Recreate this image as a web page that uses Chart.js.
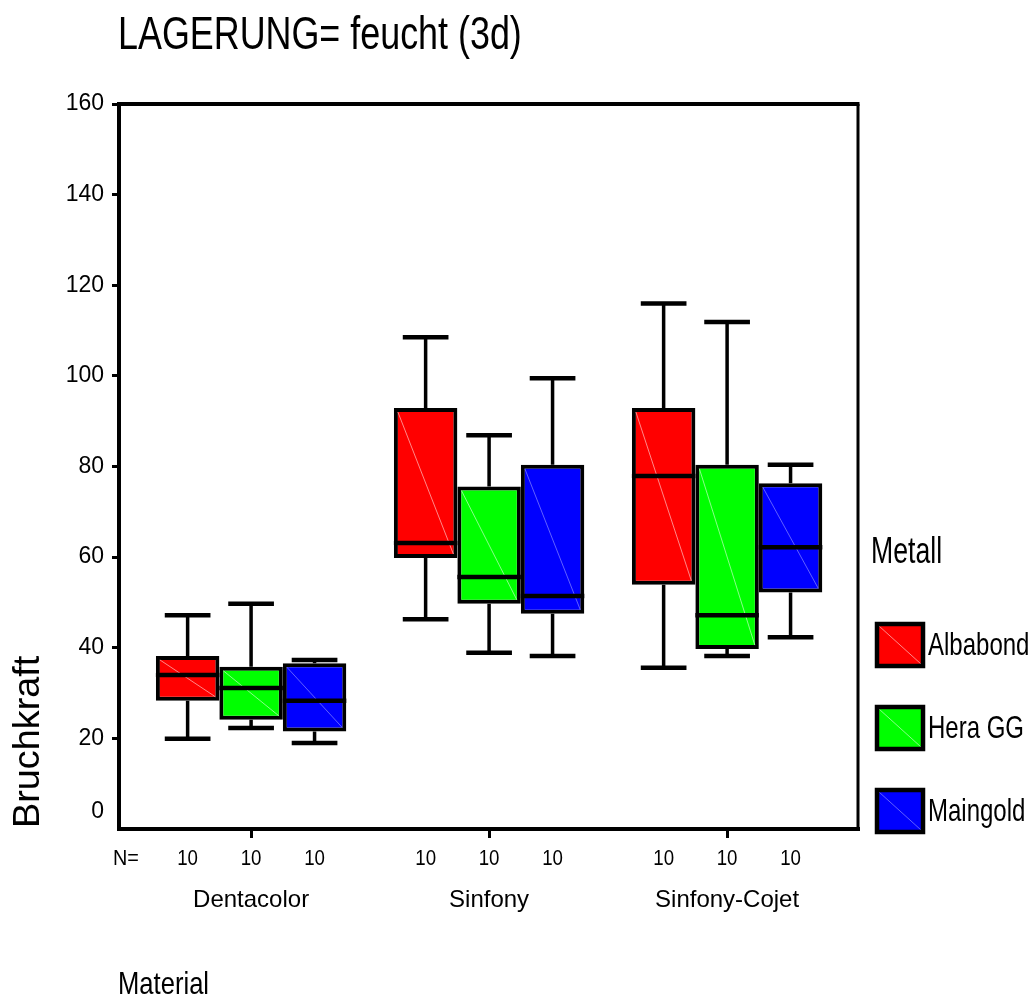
<!DOCTYPE html>
<html><head><meta charset="utf-8">
<script src="https://cdn.jsdelivr.net/npm/chart.js@4/dist/chart.umd.min.js"></script>
<style>html,body{margin:0;padding:0;background:#fff}#wrap{width:1032px;height:1008px;position:relative}</style>
</head><body><div id="wrap"><canvas id="c"></canvas></div>
<script>
// ---- data ----
const chartTitle = 'LAGERUNG= feucht (3d)';
const yAxisTitle = 'Bruchkraft';
const xAxisTitle = 'Material';
const legendTitle = 'Metall';
const categories = ['Dentacolor', 'Sinfony', 'Sinfony-Cojet'];
const seriesNames = ['Albabond', 'Hera GG', 'Maingold'];
const seriesColors = ['#ff0000', '#00ff00', '#0000ff'];
const diagColors = ['rgba(255,170,170,0.8)', 'rgba(170,255,170,0.8)', 'rgba(120,120,255,0.8)'];
const yTickValues = [0, 20, 40, 60, 80, 100, 120, 140, 160];

const albabondMin    = [19.9, 46.3, 35.6];
const albabondQ1     = [28.3, 59.8, 53.9];
const albabondMedian = [34.0, 63.1, 77.9];
const albabondQ3     = [38.2, 92.9, 92.9];
const albabondMax    = [47.2, 108.5, 116.0];
const albabondN      = [10, 10, 10];

const heraMin    = [22.3, 38.9, 38.2];
const heraQ1     = [24.1, 49.7, 39.7];
const heraMedian = [31.1, 55.6, 47.2];
const heraQ3     = [35.8, 75.6, 80.4];
const heraMax    = [49.7, 86.9, 111.9];
const heraN      = [10, 10, 10];

const maingoldMin    = [19.0, 38.2, 42.3];
const maingoldQ1     = [21.5, 47.5, 52.2];
const maingoldMedian = [28.3, 51.4, 62.2];
const maingoldQ3     = [36.6, 80.4, 76.3];
const maingoldMax    = [37.3, 99.5, 80.4];
const maingoldN      = [10, 10, 10];

const seriesStats = [
  {min: albabondMin, q1: albabondQ1, med: albabondMedian, q3: albabondQ3, max: albabondMax, n: albabondN},
  {min: heraMin, q1: heraQ1, med: heraMedian, q3: heraQ3, max: heraMax, n: heraN},
  {min: maingoldMin, q1: maingoldQ1, med: maingoldMedian, q3: maingoldQ3, max: maingoldMax, n: maingoldN}
];

const FONT = '"Liberation Sans", Arial, sans-serif';

function drawText(ctx, text, x, y, size, scaleX, align, baseline, rot) {
  ctx.save();
  ctx.font = size + 'px ' + FONT;
  ctx.fillStyle = '#000';
  ctx.textAlign = 'left';
  ctx.textBaseline = baseline || 'middle';
  ctx.translate(x, y);
  if (rot) ctx.rotate(rot);
  ctx.scale(scaleX, 1);
  const w = ctx.measureText(text).width;
  const dx = align === 'center' ? -w / 2 : (align === 'right' ? -w : 0);
  ctx.fillText(text, dx, 0);
  ctx.restore();
}

const datasets = seriesNames.map((name, s) => ({
  label: name,
  data: categories.map((c, i) => ({x: i + 1, y: [seriesStats[s].q1[i], seriesStats[s].q3[i]]})),
  backgroundColor: seriesColors[s],
  borderColor: '#000',
  borderWidth: 4,
  borderSkipped: false,
  categoryPercentage: 0.8,
  barPercentage: 1.0
}));

const boxPlugin = {
  id: 'boxplot',
  beforeDatasetsDraw(chart) {
    const ctx = chart.ctx, y = chart.scales.y;
    ctx.save();
    ctx.strokeStyle = '#000';
    ctx.lineCap = 'butt';
    chart.data.datasets.forEach((ds, s) => {
      const meta = chart.getDatasetMeta(s);
      meta.data.forEach((el, i) => {
        const st = seriesStats[s];
        const x = el.x, cw = el.width * 0.72;
        const pMax = y.getPixelForValue(st.max[i]);
        const pMin = y.getPixelForValue(st.min[i]);
        const pQ3 = y.getPixelForValue(st.q3[i]);
        const pQ1 = y.getPixelForValue(st.q1[i]);
        ctx.lineWidth = 3.5;
        ctx.beginPath();
        ctx.moveTo(x, pMax); ctx.lineTo(x, pQ3);
        ctx.moveTo(x, pQ1); ctx.lineTo(x, pMin);
        ctx.stroke();
        ctx.lineWidth = 4.5;
        ctx.beginPath();
        ctx.moveTo(x - cw / 2, pMax); ctx.lineTo(x + cw / 2, pMax);
        ctx.moveTo(x - cw / 2, pMin); ctx.lineTo(x + cw / 2, pMin);
        ctx.stroke();
      });
    });
    ctx.restore();
  },
  afterDatasetsDraw(chart) {
    const ctx = chart.ctx, y = chart.scales.y;
    ctx.save();
    chart.data.datasets.forEach((ds, s) => {
      const meta = chart.getDatasetMeta(s);
      meta.data.forEach((el, i) => {
        const st = seriesStats[s];
        const l = el.x - el.width / 2, r = el.x + el.width / 2;
        const pQ3 = y.getPixelForValue(st.q3[i]);
        const pQ1 = y.getPixelForValue(st.q1[i]);
        ctx.strokeStyle = diagColors[s];
        ctx.lineWidth = 1;
        ctx.beginPath();
        ctx.moveTo(l + 4, pQ3 + 4); ctx.lineTo(r - 4, pQ1 - 4);
        ctx.stroke();
        const pMed = y.getPixelForValue(st.med[i]);
        ctx.strokeStyle = '#000';
        ctx.lineWidth = 4.5;
        ctx.beginPath();
        ctx.moveTo(l, pMed); ctx.lineTo(r, pMed);
        ctx.stroke();
        drawText(ctx, String(st.n[i]), el.x, 859, 22, 0.85, 'center', 'middle');
      });
    });
    ctx.restore();
  },
  afterDraw(chart) {
    const ctx = chart.ctx, a = chart.chartArea;
    ctx.save();
    ctx.strokeStyle = '#000';
    ctx.lineWidth = 4;
    ctx.beginPath();
    ctx.moveTo(a.left - 2, a.top); ctx.lineTo(a.right + 1.5, a.top);
    ctx.stroke();
    ctx.lineWidth = 3;
    ctx.beginPath();
    ctx.moveTo(a.right, a.top); ctx.lineTo(a.right, a.bottom);
    ctx.stroke();
    ctx.restore();
    drawText(ctx, chartTitle, 118, 49, 46, 0.78, 'left', 'alphabetic');
    drawText(ctx, 'N=', 113, 859, 22, 0.9, 'left', 'middle');
    drawText(ctx, xAxisTitle, 118, 985, 32, 0.8, 'left', 'middle');
    drawText(ctx, yAxisTitle, 29, 828, 36, 1.05, 'left', 'middle', -Math.PI / 2);
    drawText(ctx, legendTitle, 871, 563, 37, 0.72, 'left', 'alphabetic');
    const boxTops = [624, 707, 790];
    seriesNames.forEach((name, s) => {
      const t = boxTops[s], l = 877, w = 46, h = 42;
      ctx.save();
      ctx.fillStyle = seriesColors[s];
      ctx.fillRect(l, t, w, h);
      ctx.strokeStyle = diagColors[s];
      ctx.lineWidth = 1;
      ctx.beginPath(); ctx.moveTo(l + 2, t + 2); ctx.lineTo(l + w - 2, t + h - 2); ctx.stroke();
      ctx.strokeStyle = '#000';
      ctx.lineWidth = 4.5;
      ctx.strokeRect(l, t, w, h);
      ctx.restore();
      drawText(ctx, name, 928, t + h / 2 + 1, 32, 0.75, 'left', 'middle');
    });
  }
};

new Chart(document.getElementById('c'), {
  type: 'bar',
  data: {datasets},
  options: {
    responsive: true,
    maintainAspectRatio: false,
    animation: false,
    layout: {padding: {top: 104, right: 174, left: 0, bottom: 0}},
    plugins: {legend: {display: false}, title: {display: false}, tooltip: {enabled: false}},
    scales: {
      x: {
        type: 'linear',
        offset: false,
        min: 0.445,
        max: 3.55,
        afterBuildTicks: sc => { sc.ticks = categories.map((c, i) => ({value: i + 1})); },
        afterFit: sc => { sc.height = 179; },
        ticks: {
          autoSkip: false, maxRotation: 0, padding: 48,
          color: '#000', font: {family: FONT, size: 24},
          callback: v => categories[Math.round(v) - 1]
        },
        grid: {display: true, offset: false, drawOnChartArea: false, drawTicks: true, tickLength: 9, color: '#000', lineWidth: 3},
        border: {display: true, color: '#000', width: 4}
      },
      y: {
        min: 0, max: 160,
        afterBuildTicks: sc => { sc.ticks = yTickValues.map(v => ({value: v})); },
        afterFit: sc => { sc.width = 119; },
        ticks: {
          padding: 8, color: '#000', font: {family: FONT, size: 23, lineHeight: 1.5},
          callback: v => v === 0 ? ['0', ''] : String(v)
        },
        grid: {display: true, drawOnChartArea: false, drawTicks: true, tickLength: 7, color: '#000',
               lineWidth: c => (c.tick && c.tick.value === 0) ? 0 : 3},
        border: {display: true, color: '#000', width: 4}
      }
    }
  },
  plugins: [boxPlugin]
});
</script></body></html>
